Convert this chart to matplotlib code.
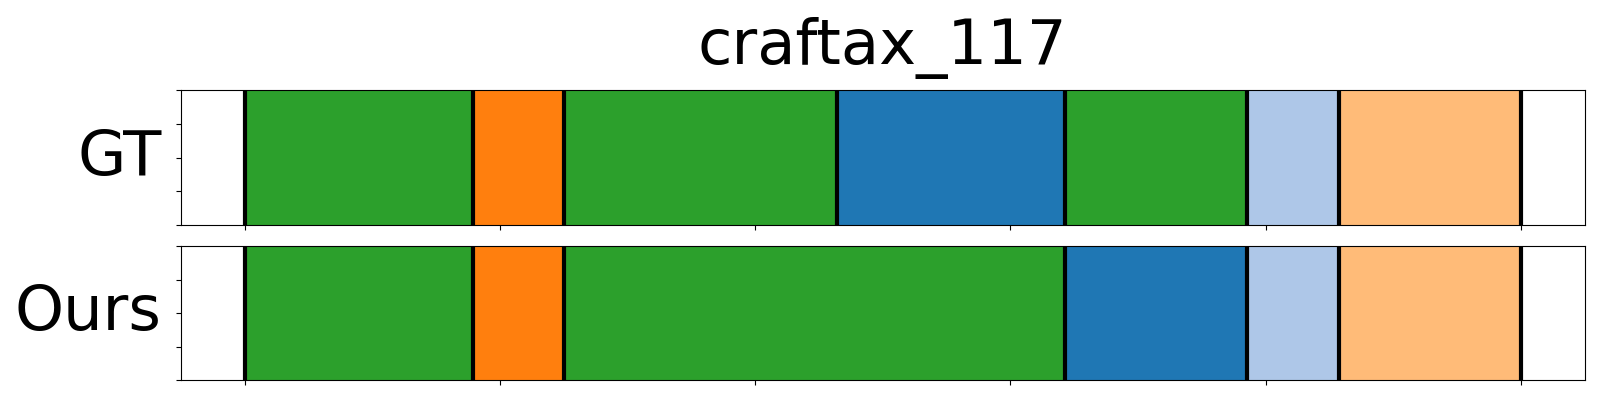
import matplotlib
matplotlib.use("Agg")
import matplotlib.pyplot as plt

# Segment data (steps out of 28, normalised to 0..1 on the x axis)
N_STEPS = 28
TITLE = "craftax_117"
ROW_NAMES = ["GT", "Ours"]

gt_bounds = [0, 5, 7, 13, 18, 22, 24, 28]
gt_labels = ["green", "orange", "green", "blue", "green", "lightblue", "lightorange"]

ours_bounds = [0, 5, 7, 18, 22, 24, 28]
ours_labels = ["green", "orange", "green", "blue", "lightblue", "lightorange"]

palette = {
    "blue": "#1f77b4",
    "lightblue": "#aec7e8",
    "orange": "#ff7f0e",
    "lightorange": "#ffbb78",
    "green": "#2ca02c",
}

fig = plt.figure(figsize=(16, 4), dpi=100)
ax_gt = fig.add_axes([0.113, 0.4375, 0.8775, 0.3375])
ax_ours = fig.add_axes([0.113, 0.05, 0.8775, 0.335])


def draw_row(ax, bounds, labels, name):
    for start, end, lab in zip(bounds[:-1], bounds[1:], labels):
        ax.axvspan(start / N_STEPS, end / N_STEPS, ymin=0, ymax=1,
                   color=palette[lab], lw=0)
    for b in bounds:
        ax.axvline(b / N_STEPS, color="black", lw=3)
    ax.set_xlim(-0.05, 1.05)
    ax.set_ylim(0, 1)
    ax.set_xticks([0, 0.2, 0.4, 0.6, 0.8, 1.0])
    ax.set_yticks([0, 0.25, 0.5, 0.75, 1.0])
    ax.set_xticklabels([])
    ax.set_yticklabels([])
    ax.set_ylabel(name, fontsize=45, rotation=0, ha="right", va="center")
    ax.yaxis.set_label_coords(-0.0135, 0.5)


draw_row(ax_gt, gt_bounds, gt_labels, ROW_NAMES[0])
draw_row(ax_ours, ours_bounds, ours_labels, ROW_NAMES[1])

ax_gt.set_title(TITLE, fontsize=45, pad=19)

fig.savefig("out.png", dpi=100)
